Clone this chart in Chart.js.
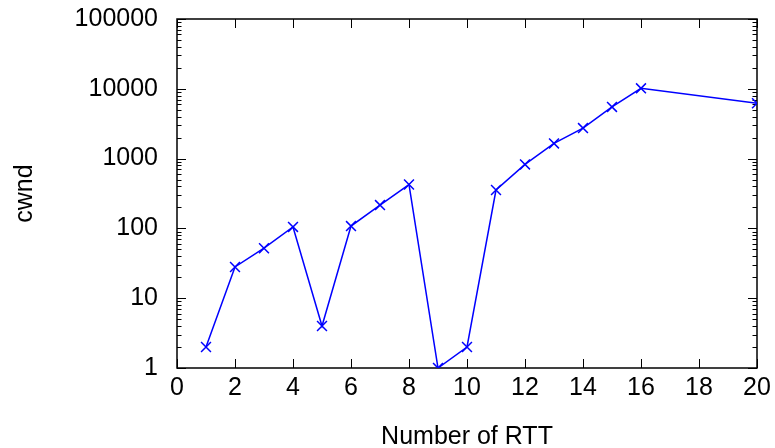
<!DOCTYPE html>
<html><head><meta charset="utf-8">
<script src="https://cdn.jsdelivr.net/npm/chart.js@4"></script>
<style>html,body{margin:0;padding:0;background:#fff}</style>
</head><body>
<canvas id="c" width="775" height="448"></canvas>
<script>
const rtt = [1, 2, 3, 4, 5, 6, 7, 8, 9, 10, 11, 12, 13, 14, 15, 16, 20];
const cwnd = [2, 28, 52, 105, 4, 108, 216, 425, 1, 2, 355, 825, 1650, 2740, 5500, 10150, 6200];
const xTicks = [0, 2, 4, 6, 8, 10, 12, 14, 16, 18, 20];
const yTicks = [1, 10, 100, 1000, 10000, 100000];
const minorMultipliers = [2, 3, 4, 5, 6, 7, 8, 9];

const FONT = '"Liberation Sans", Arial, Helvetica, sans-serif';

const frame = {
  id: 'frame',
  beforeDatasetsDraw(chart) {
    const {ctx, chartArea: {left, right, top, bottom}, scales: {x, y}} = chart;
    ctx.save();
    ctx.strokeStyle = '#000';
    ctx.lineWidth = 1;
    const line = (x1, y1, x2, y2) => { ctx.beginPath(); ctx.moveTo(x1, y1); ctx.lineTo(x2, y2); ctx.stroke(); };
    xTicks.forEach(v => {
      const px = Math.round(x.getPixelForValue(v)) + 0.5;
      line(px, bottom, px, bottom - 9);
      line(px, top, px, top + 9);
    });
    yTicks.forEach((d, i) => {
      const py = Math.round(y.getPixelForValue(d)) + 0.5;
      line(left, py, left + 9, py);
      line(right, py, right - 9, py);
      if (i < yTicks.length - 1) {
        minorMultipliers.forEach(m => {
          const q = Math.round(y.getPixelForValue(d * m)) + 0.5;
          line(left, q, left + 4.5, q);
          line(right, q, right - 4.5, q);
        });
      }
    });
    ctx.lineWidth = 1.5;
    ctx.strokeRect(left, top, right - left, bottom - top);
    ctx.restore();
  }
};

new Chart(document.getElementById('c'), {
  type: 'line',
  data: {
    datasets: [{
      data: rtt.map((r, i) => ({x: r, y: cwnd[i]})),
      borderColor: '#0000ff',
      backgroundColor: '#0000ff',
      borderWidth: 1.5,
      pointStyle: 'crossRot',
      pointRadius: 7,
      pointBorderWidth: 1.5,
      pointBorderColor: '#0000ff',
      fill: false,
      tension: 0
    }]
  },
  options: {
    responsive: false,
    animation: false,
    layout: {padding: {top: 19, right: 18, left: 0, bottom: 0}},
    plugins: {legend: {display: false}, tooltip: {enabled: false}},
    scales: {
      x: {
        type: 'linear', min: 0, max: 20,
        afterBuildTicks: s => { s.ticks = xTicks.map(v => ({value: v})); },
        afterFit: s => { s.height = 80; s.paddingLeft = 0; s.paddingRight = 0; },
        grid: {display: false, drawTicks: false},
        border: {display: false},
        ticks: {color: '#000', font: {family: FONT, size: 25}, padding: 5, maxRotation: 0, autoSkip: false},
        title: {display: true, text: 'Number of RTT', color: '#000', font: {family: FONT, size: 25, lineHeight: '22px'}, padding: {top: 0, bottom: 0}}
      },
      y: {
        type: 'logarithmic', min: 1, max: 100000,
        afterBuildTicks: s => { s.ticks = yTicks.map(v => ({value: v})); },
        afterFit: s => { s.width = 177; s.paddingTop = 0; s.paddingBottom = 0; },
        grid: {display: false, drawTicks: false},
        border: {display: false},
        ticks: {color: '#000', font: {family: FONT, size: 25}, padding: 19, autoSkip: false, callback: v => String(v)},
        title: {display: true, text: 'cwnd', color: '#000', font: {family: FONT, size: 25, lineHeight: '22px'}, padding: {top: 14, bottom: 0}}
      }
    }
  },
  plugins: [frame]
});
</script>
</body></html>
